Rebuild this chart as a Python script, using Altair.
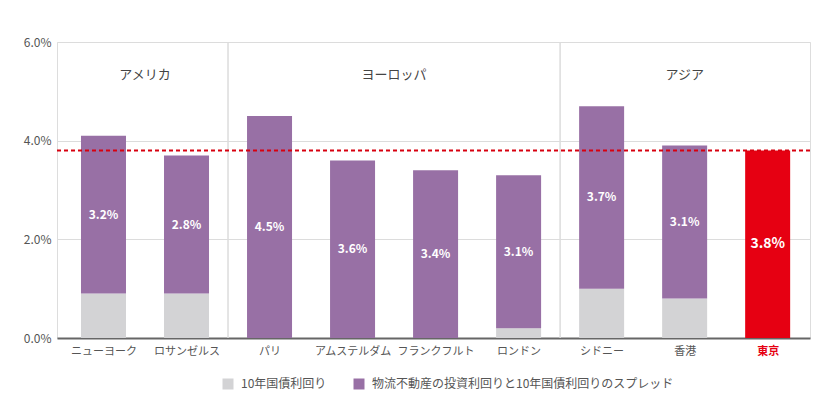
import altair as alt
import pandas as pd
import json

# ---- data ----
cities = ["ニューヨーク", "ロサンゼルス", "パリ", "アムステルダム", "フランクフルト",
          "ロンドン", "シドニー", "香港", "東京"]
bond = [0.9, 0.9, 0.0, 0.0, 0.0, 0.2, 1.0, 0.8, 0.0]
spread = [3.2, 2.8, 4.5, 3.6, 3.4, 3.1, 3.7, 3.1, 3.8]
city_region = ["アメリカ", "アメリカ", "ヨーロッパ", "ヨーロッパ", "ヨーロッパ",
               "ヨーロッパ", "アジア", "アジア", "アジア"]
regions = ["アメリカ", "ヨーロッパ", "アジア"]
highlight_city = "東京"
reference_level = 3.8
series = ["10年国債利回り", "物流不動産の投資利回りと10年国債利回りのスプレッド"]
series_colors = ["#d3d3d5", "#9870a5"]
highlight_color = "#e60012"
y_ticks = [0, 2, 4, 6]

FONT = "Noto Sans CJK JP"
W, H = 753, 296

# ---- tables ----
rows, labels = [], []
hl_rows = []
for i, c in enumerate(cities):
    if c == highlight_city:
        hl_rows.append({"idx": i, "y0": 0, "y1": bond[i] + spread[i],
                        "mid": (bond[i] + spread[i]) / 2,
                        "label": f"{spread[i]:.1f}%"})
        continue
    rows.append({"idx": i, "series": series[0], "y0": 0, "y1": bond[i]})
    rows.append({"idx": i, "series": series[1], "y0": bond[i], "y1": bond[i] + spread[i]})
    labels.append({"idx": i, "mid": bond[i] + spread[i] / 2, "label": f"{spread[i]:.1f}%"})

df = pd.DataFrame(rows)
df_lab = pd.DataFrame(labels)
df_hl = pd.DataFrame(hl_rows)

reg_pos = []
for r in regions:
    ids = [i for i, g in enumerate(city_region) if g == r]
    reg_pos.append({"region": r, "pos": (ids[0] + ids[-1]) / 2})
df_reg = pd.DataFrame(reg_pos)
seps = [i + 0.5 for i in range(len(cities) - 1) if city_region[i] != city_region[i + 1]]
df_sep = pd.DataFrame({"pos": seps})

hl_index = cities.index(highlight_city)
x_scale = alt.Scale(domain=[-0.56, len(cities) - 0.49], nice=False, zero=False, padding=0)
y_scale = alt.Scale(domain=[0, 6], nice=False, padding=0)

x_axis = alt.Axis(
    values=list(range(len(cities))),
    labelExpr=f"{json.dumps(cities, ensure_ascii=False)}[datum.value]",
    labelColor={"expr": f"datum.value == {hl_index} ? '{highlight_color}' : '#555555'"},
    labelFontWeight={"expr": f"datum.value == {hl_index} ? 'bold' : 'normal'"},
    labelFontSize=11, labelFont=FONT, labelPadding=7,
    ticks=False, grid=False, domainColor="#666666", domainWidth=2, title=None,
)
y_axis = alt.Axis(
    values=y_ticks, labelExpr="format(datum.value, '.1f') + '%'",
    labelFontSize=12, labelFont=FONT, labelColor="#555555", labelPadding=6,
    ticks=False, domain=False, grid=True, gridColor="#dcdcdc", title=None,
)

X = alt.X("idx:Q", scale=x_scale, axis=x_axis)

sep = alt.Chart(df_sep).mark_rule(color="#dcdcdc", strokeWidth=1.5).encode(
    x=alt.X("pos:Q", scale=x_scale), y=alt.value(0), y2=alt.value(H)
)

bars = alt.Chart(df).mark_bar(size=45).encode(
    x=X,
    y=alt.Y("y0:Q", scale=y_scale, axis=y_axis),
    y2="y1:Q",
    color=alt.Color(
        "series:N",
        scale=alt.Scale(domain=series, range=series_colors),
        legend=alt.Legend(
            orient="none", legendX=165, legendY=336, direction="horizontal",
            title=None, symbolType="square", symbolSize=121, symbolStrokeWidth=0,
            labelFontSize=12, labelFont=FONT, labelColor="#555555",
            columnPadding=26, labelOffset=7, labelLimit=400,
        ),
    ),
)

hl_bar = alt.Chart(df_hl).mark_bar(size=45, color=highlight_color).encode(
    x=alt.X("idx:Q", scale=x_scale), y=alt.Y("y0:Q", scale=y_scale), y2="y1:Q"
)

ref = alt.Chart(pd.DataFrame({"y": [reference_level]})).mark_rule(
    color="#d7000f", strokeDash=[4, 3], strokeWidth=2
).encode(y=alt.Y("y:Q", scale=y_scale), x=alt.value(0), x2=alt.value(W))

txt = alt.Chart(df_lab).mark_text(
    color="white", fontSize=12, fontWeight=600, font=FONT
).encode(x=alt.X("idx:Q", scale=x_scale), y=alt.Y("mid:Q", scale=y_scale), text="label:N")

hl_txt = alt.Chart(df_hl).mark_text(
    color="white", fontSize=14, fontWeight="bold", font=FONT
).encode(x=alt.X("idx:Q", scale=x_scale), y=alt.Y("mid:Q", scale=y_scale), text="label:N")

reg_txt = alt.Chart(df_reg).mark_text(
    color="#444444", fontSize=13, font=FONT
).encode(x=alt.X("pos:Q", scale=x_scale), y=alt.value(33), text="region:N")

chart = alt.layer(sep, bars, hl_bar, ref, txt, hl_txt, reg_txt).properties(
    width=W, height=H,
    autosize=alt.AutoSizeParams(type="none"),
    padding={"left": 49, "top": 34, "right": 15, "bottom": 60},
).configure_view(stroke=None).configure(background="white")

chart.save("out.html", embed_options={"renderer": "svg", "actions": False})
